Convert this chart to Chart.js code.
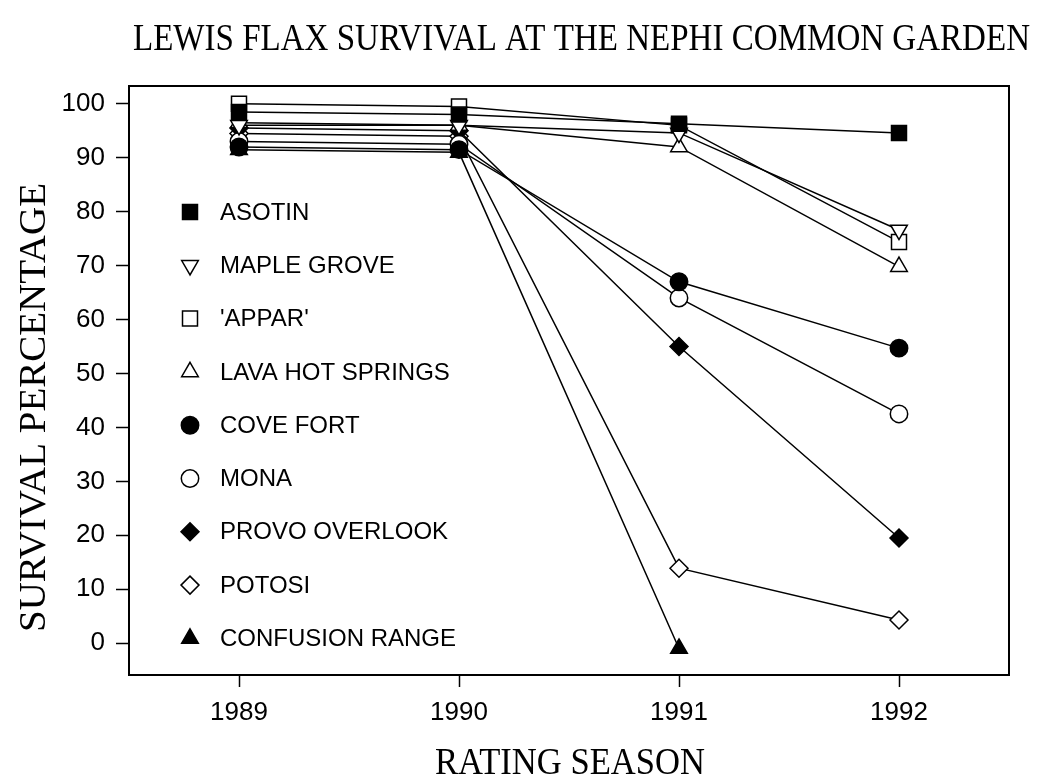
<!DOCTYPE html>
<html>
<head>
<meta charset="utf-8">
<script src="https://cdn.jsdelivr.net/npm/chart.js@4.4.0/dist/chart.umd.min.js"></script>
<style>
  html, body { margin: 0; padding: 0; background: #fff; }
  canvas { display: block; }
</style>
</head>
<body>
<canvas id="chart" width="1039" height="778"></canvas>
<script>
// Rating seasons and tick values
const seasons = [1989, 1990, 1991, 1992];
const yTicks = [0, 10, 20, 30, 40, 50, 60, 70, 80, 90, 100];

// Survival percentage per accession
const asotin = [98.5, 98, 96.3, 94.6];
const mapleGrove = [96, 96, 94.6, 76.6];
const appar = [100, 99.5, 96, 74.4];
const lavaHotSprings = [96.5, 96, 92, 69.8];
const coveFort = [92, 91.5, 67, 54.7];
const mona = [93, 92.5, 64, 42.5];
const provoOverlook = [95.5, 95, 55, 19.5];
const potosi = [94.5, 94, 13.9, 4.3];
const confusionRange = [91.5, 91, -1];

const seriesNames = ["ASOTIN", "MAPLE GROVE", "'APPAR'", "LAVA HOT SPRINGS", "COVE FORT",
  "MONA", "PROVO OVERLOOK", "POTOSI", "CONFUSION RANGE"];
const seriesValues = [asotin, mapleGrove, appar, lavaHotSprings, coveFort,
  mona, provoOverlook, potosi, confusionRange];
// marker: [pointStyle, rotation, filled, radius]
const markers = [
  ["rect", 0, true, 10.6],
  ["triangle", 180, false, 9.6],
  ["rect", 0, false, 10.6],
  ["triangle", 0, false, 9.6],
  ["circle", 0, true, 8.7],
  ["circle", 0, false, 8.7],
  ["rectRot", 0, true, 9],
  ["rectRot", 0, false, 9],
  ["triangle", 0, true, 9.6],
];

const datasets = seriesNames.map((name, i) => {
  const [style, rot, filled, r] = markers[i];
  return {
    label: name,
    data: seriesValues[i].map((v, j) => ({ x: seasons[j], y: v })),
    borderColor: "#000",
    borderWidth: 1.5,
    pointStyle: style,
    pointRotation: rot,
    pointRadius: r,
    pointHoverRadius: r,
    pointBackgroundColor: filled ? "#000" : "#fff",
    pointBorderColor: "#000",
    pointBorderWidth: 1.5,
    tension: 0,
    fill: false,
    clip: false,
  };
});

function fitText(ctx, text, x, y, width) {
  const w = ctx.measureText(text).width;
  ctx.save();
  ctx.translate(x, y);
  ctx.scale(width / w, 1);
  ctx.textAlign = "left";
  ctx.fillText(text, 0, 0);
  ctx.restore();
}

// Frame, titles and the inside legend
const decorations = {
  id: "decorations",
  afterDraw(chart) {
    const ctx = chart.ctx;
    const a = chart.chartArea;
    ctx.save();
    ctx.strokeStyle = "#000";
    ctx.lineWidth = 2;
    ctx.strokeRect(a.left, a.top, a.right - a.left, a.bottom - a.top);

    ctx.fillStyle = "#000";
    ctx.textBaseline = "alphabetic";
    ctx.font = "38px 'Liberation Serif'";
    fitText(ctx, "LEWIS FLAX SURVIVAL AT THE NEPHI COMMON GARDEN", 133, 50, 897);
    ctx.font = "37px 'Liberation Serif'";
    fitText(ctx, "RATING SEASON", 435, 774, 270);
    ctx.save();
    ctx.translate(45, 632);
    ctx.rotate(-Math.PI / 2);
    fitText(ctx, "SURVIVAL PERCENTAGE", 0, 0, 449);
    ctx.restore();

    // legend
    ctx.font = "24px 'Liberation Sans'";
    ctx.textBaseline = "middle";
    seriesNames.forEach((name, i) => {
      const [style, rot, filled, r] = markers[i];
      const y = 212 + i * 53.3;
      ctx.fillStyle = filled ? "#000" : "#fff";
      ctx.strokeStyle = "#000";
      ctx.lineWidth = 1.5;
      Chart.helpers.drawPoint(ctx, { pointStyle: style, rotation: rot, radius: r, borderWidth: 1.5 }, 190, y);
      ctx.fillStyle = "#000";
      ctx.fillText(name, 220, y + 1);
    });
    ctx.restore();
  },
};

new Chart(document.getElementById("chart"), {
  type: "line",
  data: { datasets },
  plugins: [decorations],
  options: {
    responsive: false,
    animation: false,
    events: [],
    layout: { padding: { top: 86, right: 30, left: 0, bottom: 0 } },
    plugins: { legend: { display: false }, title: { display: false }, tooltip: { enabled: false } },
    scales: {
      x: {
        type: "linear",
        min: 1988.5,
        max: 1992.5,
        afterBuildTicks: (scale) => { scale.ticks = seasons.map((v) => ({ value: v })); },
        afterFit: (scale) => { scale.height = 103; },
        border: { display: true, color: "#000", width: 2 },
        grid: { drawOnChartArea: false, tickLength: 12, color: "#000", tickWidth: 1.5 },
        ticks: { color: "#000", padding: 10, font: { family: "'Liberation Sans'", size: 26 }, callback: (v) => String(v), maxRotation: 0 },
      },
      y: {
        min: -5.9,
        max: 103.3,
        afterBuildTicks: (scale) => { scale.ticks = yTicks.map((v) => ({ value: v })); },
        afterFit: (scale) => { scale.width = 129; },
        border: { display: true, color: "#000", width: 2 },
        grid: { drawOnChartArea: false, tickLength: 13, color: "#000", tickWidth: 1.5 },
        ticks: { color: "#000", padding: 11, font: { family: "'Liberation Sans'", size: 26 } },
      },
    },
  },
});
</script>
</body>
</html>
